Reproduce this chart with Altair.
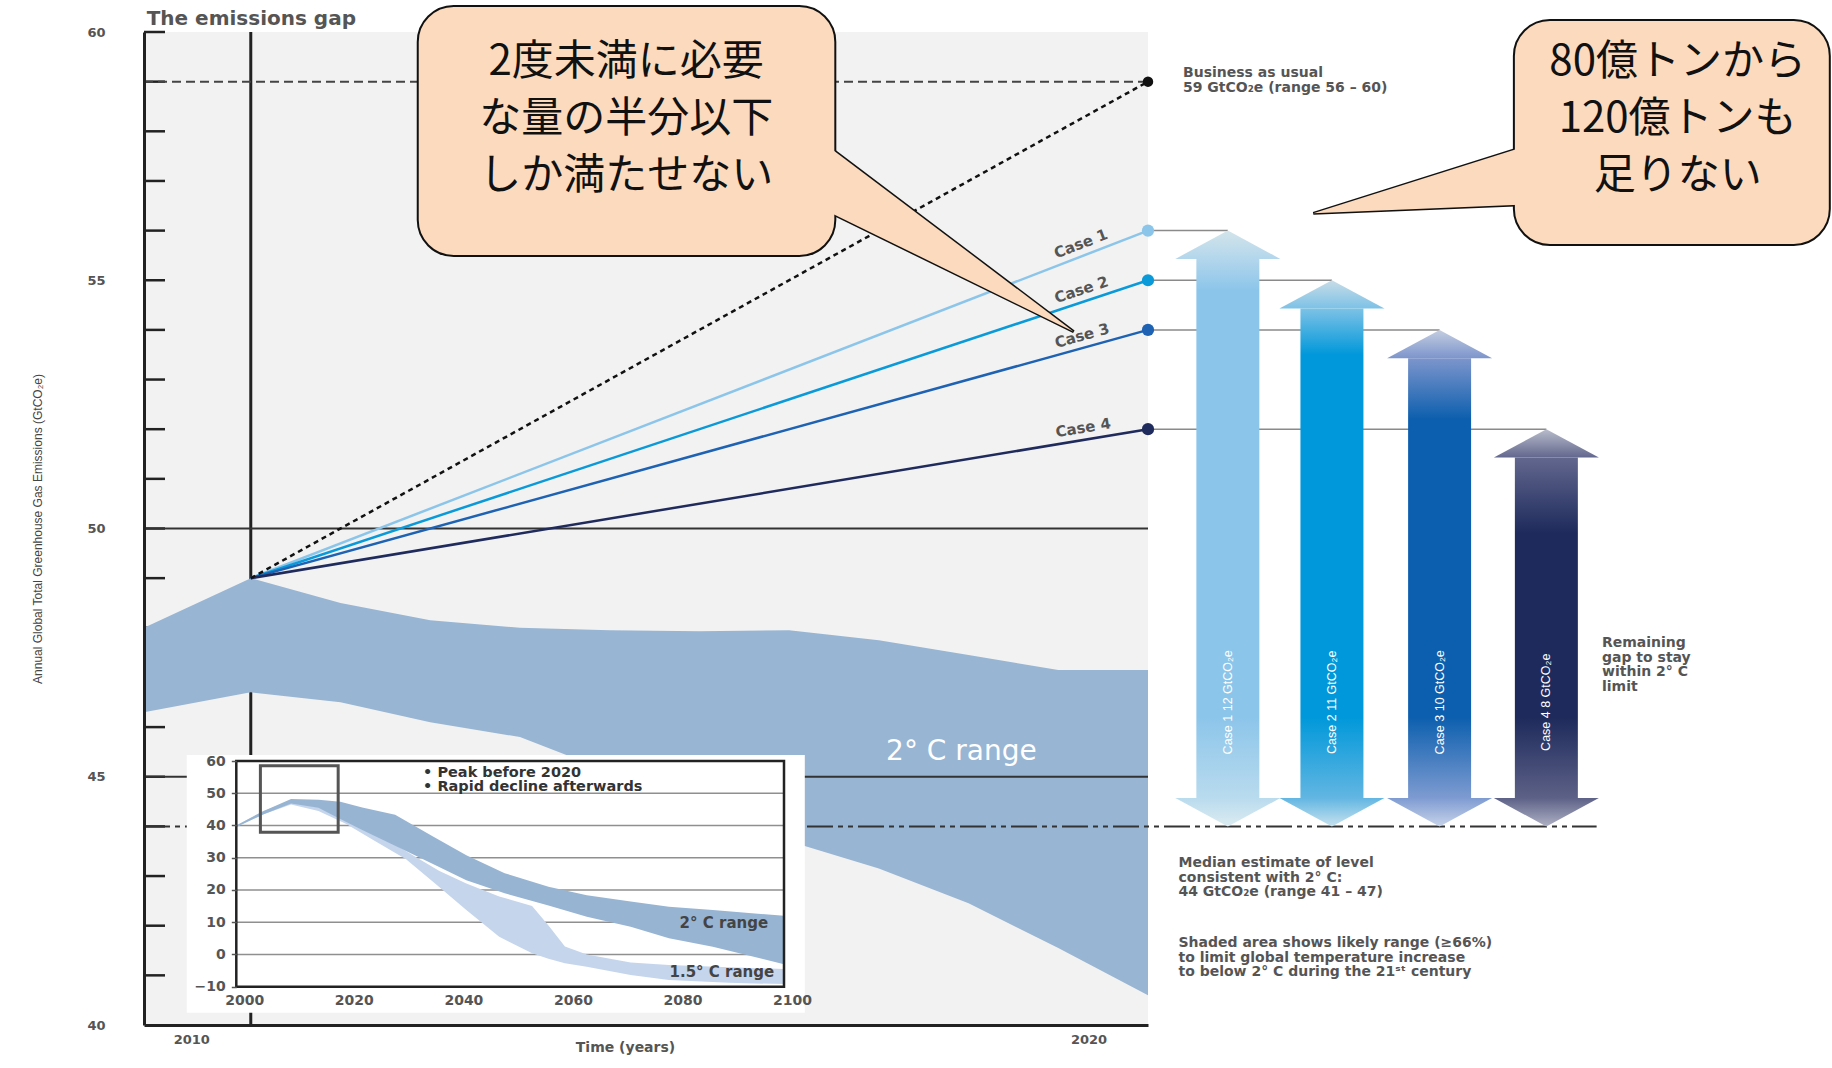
import math
import altair as alt
import pandas as pd

# ------------------------------------------------------------------ data
axis_start_year = 2008.81
year_end = 2020
value_domain = [40, 60]

band_years = [2008.81, 2010, 2011, 2012, 2013, 2014, 2015, 2016, 2017, 2018, 2019, 2020]
band_upper = [48.0, 49.0, 48.5, 48.15, 48.0, 47.95, 47.93, 47.95, 47.75, 47.45, 47.15, 47.15]
band_lower = [46.3, 46.7, 46.5, 46.1, 45.8, 45.1, 44.4, 43.7, 43.15, 42.45, 41.55, 40.6]

case_names = ["Case 1", "Case 2", "Case 3", "Case 4"]
case_2020 = [56, 55, 54, 52]
case_colors = ["#8cc5ea", "#0a9ad9", "#1e62b3", "#1f2b5c"]
gap_labels = ["Case 1  12 GtCO₂e", "Case 2  11 GtCO₂e", "Case 3  10 GtCO₂e", "Case 4  8 GtCO₂e"]
arrow_years = [2020.89, 2022.05, 2023.25, 2024.44]
start_year, start_value = 2010, 49
bau_year, bau_value = 2020, 59
median_value = 44
median_line_end = 2025.0
solid_levels = [50, 45]
minor_ticks = list(range(41, 61))
main_x_labels = [2010, 2020]
main_y_labels = [40, 45, 50, 55, 60]

# gradient colours of the gap arrows: tip, head, body, bottom head, bottom tip
arrow_shades = [
    ["#d3e4ea", "#b3d6ec", "#8cc5ea", "#b9dbee", "#dcecf1"],
    ["#c8dce6", "#7cc2e6", "#0098da", "#62b6e2", "#c6e2ee"],
    ["#c4cde0", "#7d95cc", "#0c5fae", "#7e9bd1", "#c7d3ea"],
    ["#b9bccb", "#62678e", "#1d2a5b", "#5d6187", "#aeb0c3"],
]

# inset (1.5 / 2 degree pathways 2000-2100)
inset_dark_years = [2000, 2005, 2010, 2015, 2019, 2023, 2029, 2036, 2042, 2049, 2057, 2064, 2072, 2079, 2087, 2100]
inset_dark_upper = [40, 44.5, 48.2, 48.0, 47.4, 45.6, 43.3, 36.5, 30.8, 25.2, 21.0, 18.4, 16.4, 14.8, 13.8, 12.0]
inset_dark_lower = [39.5, 43.5, 46.8, 45.5, 42.0, 38.6, 33.7, 28.0, 23.0, 19.0, 15.2, 11.7, 8.6, 5.0, 2.4, -3.0]
inset_light_years = [2000, 2005, 2010, 2015, 2020, 2025, 2031, 2037, 2042, 2048, 2054, 2057, 2060, 2064, 2072, 2079, 2090, 2100]
inset_light_upper = [40, 44.5, 47.8, 46.5, 43.0, 38.0, 32.0, 26.0, 22.0, 18.0, 15.0, 9.0, 2.5, 0.0, -2.5, -3.3, -4.0, -4.5]
inset_light_lower = [39.5, 43.5, 46.5, 44.5, 40.5, 35.5, 29.5, 21.0, 13.8, 5.5, 0.4, -1.3, -2.7, -3.8, -6.4, -7.9, -8.8, -9.2]
inset_grid = list(range(-10, 61, 10))
inset_x_labels = list(range(2000, 2101, 20))
inset_zoom_box = {"x": 2004.4, "x2": 2018.6, "y": 37.9, "y2": 58.5}
inset_panel = {"x": 1990.96, "x2": 2103.8, "y": -18.06, "y2": 61.86}

# texts
title_text = "The emissions gap"
y_title = "Annual Global Total Greenhouse Gas Emissions (GtCO₂e)"
x_title = "Time (years)"
bau_lines = ["Business as usual", "59 GtCO₂e (range 56 – 60)"]
remaining_lines = ["Remaining", "gap to stay", "within 2° C", "limit"]
median_lines = ["Median estimate of level", "consistent with 2° C:", "44 GtCO₂e (range 41 – 47)"]
shaded_lines = ["Shaded area shows likely range (≥66%)", "to limit global temperature increase",
                "to below 2° C during the 21ˢᵗ century"]
band_label = "2° C range"
inset_bullets = ["• Peak before 2020", "• Rapid decline afterwards"]
inset_range_labels = ["2° C range", "1.5° C range"]
bubble1_lines = ["2度未満に必要", "な量の半分以下", "しか満たせない"]
bubble2_lines = ["80億トンから", "120億トンも", "足りない"]

# speech bubbles (box corners, pointer base and tip) in chart units
bubble_box_x = [2011.861, 2024.078]
bubble_box_x2 = [2016.515, 2027.599]
bubble_box_y = [60.524, 60.242]
bubble_box_y2 = [55.488, 55.710]
pointer_base_x = [2016.515, 2024.078]
pointer_base_top = [57.589, 57.623]
pointer_base_bottom = [56.314, 56.516]
pointer_tip_x = [2019.172, 2021.843]
pointer_tip_y = [53.964, 56.348]
bubble_text_x = [2014.184, 2025.903]
bubble_text_y = [59.40, 59.40]

# ------------------------------------------------------------------ layout
PLOT_W, PLOT_H = 1004, 993
PAD = {"left": 144, "top": 32, "right": 684, "bottom": 43}
GREY = "#555555"
SMALL_FONT = "DejaVu Sans"

XS = alt.Scale(domain=[axis_start_year, year_end], nice=False, zero=False)
YS = alt.Scale(domain=value_domain, nice=False, zero=False)
XI = alt.Scale(domain=[2000, 2100], range=[92.3, 640], nice=False, zero=False)
YI = alt.Scale(domain=[-10, 60], range=[954.7, 729], nice=False, zero=False)

# axes (the same definition is given to every layer, so the layers merge into one axis)
X_AXIS_MAIN = alt.Axis(values=main_x_labels, format="d", domain=True, domainColor="#222", domainWidth=3,
                       ticks=False, tickSize=0, labelOffset=-59.5, labelPadding=8,
                       labelFont=SMALL_FONT, labelFontWeight="bold", labelFontSize=13,
                       labelColor=GREY, labelFlush=False, grid=False, zindex=1,
                       title=x_title, titleFont=SMALL_FONT, titleFontWeight="bold",
                       titleFontSize=14, titleColor=GREY, titleX=481, titleY=15)
Y_AXIS_MAIN = alt.Axis(values=main_y_labels, domain=True, domainColor="#222", domainWidth=3,
                       ticks=False, tickSize=0, labelPadding=39,
                       labelFont=SMALL_FONT, labelFontWeight="bold", labelFontSize=13,
                       labelColor=GREY, labelFlush=False, grid=False, zindex=1,
                       title=y_title, titleFont="Liberation Sans", titleFontSize=12,
                       titleFontWeight="normal", titleColor="#444", titleX=-107, titleY=496.5,
                       titleAngle=270, titleAlign="center", titleBaseline="middle")
X_AXIS_INSET = alt.Axis(values=inset_x_labels, format="d", orient="bottom", offset=-38.3, domain=False,
                        ticks=False, tickSize=0, labelPadding=7, labelOffset=8, labelFont=SMALL_FONT,
                        labelFontWeight="bold", labelFontSize=14, labelColor=GREY, labelFlush=False,
                        grid=False, title=None, zindex=2)
Y_AXIS_INSET = alt.Axis(values=inset_grid, orient="left", offset=-92.3, domain=False, ticks=True,
                        tickSize=5, tickColor=GREY, tickWidth=1.5, labelPadding=6, labelFont=SMALL_FONT,
                        labelFontWeight="bold", labelFontSize=14, labelColor=GREY, labelFlush=False,
                        grid=False, title=None, zindex=2)


def mx(f):
    return alt.X(f, type="quantitative", scale=XS, axis=X_AXIS_MAIN)


def my(f):
    return alt.Y(f, type="quantitative", scale=YS, axis=Y_AXIS_MAIN)


def ix(f):
    return alt.X(f, type="quantitative", scale=XI, axis=X_AXIS_INSET)


def iy(f):
    return alt.Y(f, type="quantitative", scale=YI, axis=Y_AXIS_INSET)


def point_df(x, y):
    return pd.DataFrame({"x": [x], "y": [y]})


def text_at(df, xf, yf, lines, **kw):
    return alt.Chart(df).mark_text(text=lines, **kw).encode(x=xf("x"), y=yf("y"))


def vgrad(stops):
    return alt.Gradient(gradient="linear", x1=0, x2=0, y1=0, y2=1,
                        stops=[alt.GradientStop(offset=o, color=c) for o, c in stops])


# ------------------------------------------------------------------ main layers
frame_df = pd.DataFrame({"x": [axis_start_year], "x2": [year_end], "y": [value_domain[0]],
                         "y2": [value_domain[1]]})
background = alt.Chart(frame_df).mark_rect(color="#f2f2f2").encode(
    x=mx("x"), x2="x2", y=my("y"), y2="y2")

ticks = alt.Chart(pd.DataFrame({"v": minor_ticks})).mark_rule(color="#222", strokeWidth=2.5).encode(
    x=alt.value(0), x2=alt.value(21), y=my("v"))

vline = alt.Chart(pd.DataFrame({"x": [start_year], "y": [value_domain[0]], "y2": [value_domain[1]]})).mark_rule(
    color="#222", strokeWidth=3).encode(x=mx("x"), y=my("y"), y2="y2")

band = alt.Chart(pd.DataFrame({"year": band_years, "upper": band_upper, "lower": band_lower})).mark_area(
    color="#98b5d3", orient="vertical").encode(x=mx("year"), y=my("upper"), y2="lower")

solid_lines = alt.Chart(pd.DataFrame({"y": solid_levels, "x": axis_start_year, "x2": year_end})).mark_rule(
    color="#333", strokeWidth=2).encode(x=mx("x"), x2="x2", y=my("y"))
bau_level = alt.Chart(pd.DataFrame({"y": [bau_value], "x": [axis_start_year], "x2": [bau_year]})).mark_rule(
    color="#444", strokeWidth=2, strokeDash=[9, 5]).encode(x=mx("x"), x2="x2", y=my("y"))
median_level = alt.Chart(pd.DataFrame({"y": [median_value], "x": [axis_start_year], "x2": [median_line_end]})).mark_rule(
    color="#333", strokeWidth=2, strokeDash=[26, 5, 5, 5, 5, 5]).encode(x=mx("x"), x2="x2", y=my("y"))

cases_df = pd.DataFrame({"case": case_names, "v": case_2020, "arrow": arrow_years,
                         "x": start_year, "y": start_value, "x2": year_end})
case_color = alt.Color("case:N", scale=alt.Scale(domain=case_names, range=case_colors), legend=None)

connectors = alt.Chart(cases_df).mark_rule(color="#8a8a8a", strokeWidth=1.5).encode(
    x=mx("x2"), x2="arrow", y=my("v"))
case_lines = alt.Chart(cases_df).mark_rule(strokeWidth=2.5).encode(
    x=mx("x"), x2="x2", y=my("y"), y2="v", color=case_color)
bau_line = alt.Chart(pd.DataFrame({"x": [start_year], "y": [start_value], "x2": [bau_year], "y2": [bau_value]})).mark_rule(
    color="#111", strokeWidth=2.5, strokeDash=[5, 4]).encode(x=mx("x"), x2="x2", y=my("y"), y2="y2")
case_dots = alt.Chart(cases_df).mark_circle(size=150, opacity=1).encode(
    x=mx("x2"), y=my("v"), color=case_color)
bau_dot = alt.Chart(point_df(bau_year, bau_value)).mark_circle(size=110, opacity=1, color="#111").encode(
    x=mx("x"), y=my("y"))

px_per_year = PLOT_W / (year_end - axis_start_year)
px_per_val = PLOT_H / (value_domain[1] - value_domain[0])
label_year = 2019.3
lab_rows = []
for name, v in zip(case_names, case_2020):
    frac = (label_year - start_year) / (year_end - start_year)
    ang = math.degrees(math.atan((v - start_value) * px_per_val / ((year_end - start_year) * px_per_year)))
    lab_rows.append({"case": name, "x": label_year, "y": start_value + (v - start_value) * frac,
                     "ang": 360 - ang})
case_labels = alt.Chart(pd.DataFrame(lab_rows)).mark_text(
    align="center", baseline="bottom", dy=-4, font=SMALL_FONT, fontWeight="bold", fontSize=15,
    color=GREY).encode(x=mx("x"), y=my("y"), text="case:N", angle=alt.Angle("ang:Q", scale=None))

band_text = text_at(point_df(2017.92, 45.5), mx, my, band_label, color="white", fontSize=28,
                    font=SMALL_FONT, align="center", baseline="middle")

# gap arrows: shaft (rect) + two heads (triangles), each with a vertical gradient
HEAD_H, HEAD_HALF, SHAFT_HALF = 0.57, 0.585, 0.351
shaft_rows, head_rows = [], []
for i, (c, top) in enumerate(zip(arrow_years, case_2020)):
    shaft_rows.append({"case": case_names[i], "xl": c - SHAFT_HALF, "xr": c + SHAFT_HALF,
                       "yt": top - HEAD_H, "yb": median_value + HEAD_H})
    for part, (base, tip) in (("top", (top - HEAD_H, top)), ("bottom", (median_value + HEAD_H, median_value))):
        hi, lo = max(base, tip), min(base, tip)
        head_rows += [
            {"case": case_names[i], "part": part, "x": c - HEAD_HALF, "y": base, "y2": base},
            {"case": case_names[i], "part": part, "x": c, "y": hi, "y2": lo},
            {"case": case_names[i], "part": part, "x": c + HEAD_HALF, "y": base, "y2": base},
        ]
shaft_df = pd.DataFrame(shaft_rows)
head_df = pd.DataFrame(head_rows)

arrow_layers = []
for i, (name, top) in enumerate(zip(case_names, case_2020)):
    sh = arrow_shades[i]
    s_top, s_bot = top - HEAD_H, median_value + HEAD_H
    span = s_top - s_bot
    body_start = top - 1.2 - 0.3 * i
    shaft_stops = [(0, sh[1]), (round((s_top - body_start) / span, 4), sh[2]),
                   (round((s_top - 46.2) / span, 4), sh[2]), (1, sh[3])]
    arrow_layers.append(
        alt.Chart(shaft_df).transform_filter(alt.datum.case == name).mark_rect(color=vgrad(shaft_stops)).encode(
            x=mx("xl"), x2="xr", y=my("yt"), y2="yb"))
    arrow_layers.append(
        alt.Chart(head_df).transform_filter((alt.datum.case == name) & (alt.datum.part == "top")).mark_area(
            orient="vertical", color=vgrad([(0, sh[0]), (1, sh[1])])).encode(
            x=mx("x"), y=my("y"), y2="y2"))
    arrow_layers.append(
        alt.Chart(head_df).transform_filter((alt.datum.case == name) & (alt.datum.part == "bottom")).mark_area(
            orient="vertical", color=vgrad([(0, sh[3]), (1, sh[4])])).encode(
            x=mx("x"), y=my("y"), y2="y2"))

arrow_text = alt.Chart(pd.DataFrame({"x": arrow_years, "y": 46.5, "t": gap_labels})).mark_text(
    angle=270, color="white", font="Liberation Sans", fontSize=12.5, align="center",
    baseline="middle").encode(x=mx("x"), y=my("y"), text="t:N")

note_kw = dict(align="left", baseline="middle", font=SMALL_FONT, fontWeight="bold", fontSize=14,
               color=GREY, lineHeight=14.5)
notes = [
    text_at(point_df(2020.39, 59.17), mx, my, bau_lines, **note_kw),
    text_at(point_df(2025.06, 47.69), mx, my, remaining_lines, **note_kw),
    text_at(point_df(2020.34, 43.26), mx, my, median_lines, **note_kw),
    text_at(point_df(2020.34, 41.65), mx, my, shaded_lines, **note_kw),
]
title_mark = text_at(point_df(2008.84, 60.26), mx, my, title_text, align="left", baseline="middle",
                     font=SMALL_FONT, fontWeight="bold", fontSize=20, color=GREY)

# speech bubbles
BUBBLE_FILL = "#fcdabe"
ptr_rows, ptr_in_rows = [], []
for b in range(2):
    bx, tx, ty = pointer_base_x[b], pointer_tip_x[b], pointer_tip_y[b]
    top, bot = pointer_base_top[b], pointer_base_bottom[b]
    ptr_rows += [{"b": b, "x": bx, "y": top, "y2": bot}, {"b": b, "x": tx, "y": ty, "y2": ty}]
    d = 0.06 * (1 if tx > bx else -1)
    xin = bx - d
    t = (xin - bx) / (tx - bx)
    ptr_in_rows += [{"b": b, "x": xin, "y": top + (ty - top) * t, "y2": bot + (ty - bot) * t},
                    {"b": b, "x": tx, "y": ty, "y2": ty}]
pointer_outline = alt.Chart(pd.DataFrame(ptr_rows)).mark_area(
    orient="vertical", fill=BUBBLE_FILL, stroke="#111", strokeWidth=3).encode(
    x=mx("x"), y=my("y"), y2="y2", detail="b:N")
bubble_boxes = alt.Chart(pd.DataFrame({"x": bubble_box_x, "x2": bubble_box_x2, "y": bubble_box_y,
                                       "y2": bubble_box_y2})).mark_rect(
    cornerRadius=36, fill=BUBBLE_FILL, stroke="#111", strokeWidth=2).encode(
    x=mx("x"), x2="x2", y=my("y"), y2="y2")
pointer_fill = alt.Chart(pd.DataFrame(ptr_in_rows)).mark_area(
    orient="vertical", fill=BUBBLE_FILL, strokeWidth=0).encode(
    x=mx("x"), y=my("y"), y2="y2", detail="b:N")
bubble_kw = dict(font="Noto Sans CJK JP", fontSize=42, lineHeight=57, align="center",
                 baseline="middle", color="#111")
bubble_texts = [
    text_at(point_df(bubble_text_x[0], bubble_text_y[0]), mx, my, bubble1_lines, **bubble_kw),
    text_at(point_df(bubble_text_x[1], bubble_text_y[1]), mx, my, bubble2_lines, **bubble_kw),
]

main = alt.layer(background, ticks, vline, band, solid_lines, bau_level, median_level, connectors,
                 case_lines, bau_line, case_dots, bau_dot, case_labels, band_text, *arrow_layers,
                 arrow_text, *notes, title_mark, pointer_outline, bubble_boxes, pointer_fill,
                 *bubble_texts)

# ------------------------------------------------------------------ inset layers
panel = alt.Chart(pd.DataFrame([inset_panel])).mark_rect(color="white").encode(
    x=ix("x"), x2="x2", y=iy("y"), y2="y2")
grid = alt.Chart(pd.DataFrame({"v": inset_grid, "x": 2000, "x2": 2100})).mark_rule(
    color="#8f8f8f", strokeWidth=1.5).encode(x=ix("x"), x2="x2", y=iy("v"))
light = alt.Chart(pd.DataFrame({"year": inset_light_years, "u": inset_light_upper, "l": inset_light_lower})).mark_area(
    color="#c4d5ec", orient="vertical").encode(x=ix("year"), y=iy("u"), y2="l")
dark = alt.Chart(pd.DataFrame({"year": inset_dark_years, "u": inset_dark_upper, "l": inset_dark_lower})).mark_area(
    color="#97b4d3", orient="vertical").encode(x=ix("year"), y=iy("u"), y2="l")
zoom_box = alt.Chart(pd.DataFrame([inset_zoom_box])).mark_rect(
    fillOpacity=0, stroke="#555", strokeWidth=3).encode(x=ix("x"), x2="x2", y=iy("y"), y2="y2")
inset_frame = alt.Chart(pd.DataFrame({"x": [2000], "x2": [2100], "y": [-10], "y2": [60]})).mark_rect(
    fillOpacity=0, stroke="#222", strokeWidth=2.5).encode(x=ix("x"), x2="x2", y=iy("y"), y2="y2")
bullets = text_at(point_df(2034.1, 56.2), ix, iy, inset_bullets, align="left", baseline="middle",
                  font=SMALL_FONT, fontWeight="bold", fontSize=14.5, color="#333", lineHeight=13.6)
range_labels = alt.Chart(pd.DataFrame({"x": [2097.1, 2098.2], "y": [9.66, -5.35], "t": inset_range_labels})).mark_text(
    align="right", baseline="middle", font=SMALL_FONT, fontWeight="bold", fontSize=15, color="#444").encode(
    x=ix("x"), y=iy("y"), text="t:N")

inset = alt.layer(panel, grid, light, dark, zoom_box, inset_frame, bullets, range_labels)

chart = alt.layer(main, inset).resolve_scale(
    x="independent", y="independent").resolve_axis(
    x="independent", y="independent").properties(
    width=PLOT_W, height=PLOT_H, padding=PAD,
    autosize=alt.AutoSizeParams(type="none"), background="white").configure_view(stroke=None)

chart.save("out.html", embed_options={"renderer": "svg", "actions": False})
